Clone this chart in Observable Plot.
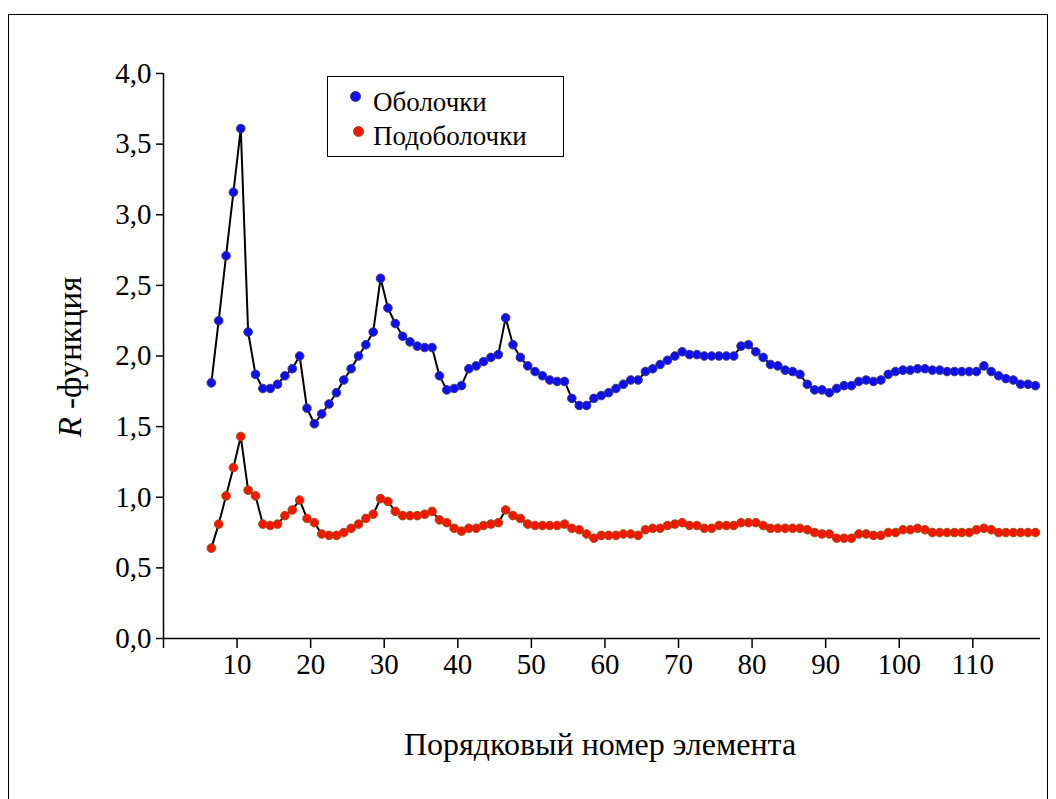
<!DOCTYPE html>
<html><head><meta charset="utf-8">
<script src="https://cdn.jsdelivr.net/npm/d3@7"></script>
<script src="https://cdn.jsdelivr.net/npm/@observablehq/plot@0.6"></script>
<style>
body{margin:0;background:#fff;}
#wrap{position:relative;width:1056px;height:799px;font-family:"Liberation Serif","Times New Roman",serif;color:#000;overflow:hidden}
#border{position:absolute;left:8px;top:14px;width:1040px;height:790px;border:1.5px solid #000;box-sizing:border-box}
#chart{position:absolute;left:0;top:0}
#legend{position:absolute;left:327px;top:76px;width:237px;height:81px;border:1.5px solid #000;box-sizing:border-box;background:#fff}
.li{position:absolute;left:45px;font-size:27px;line-height:27px;white-space:nowrap}
.sw{position:absolute;width:9px;height:9px;border-radius:50%;}
#xl{position:absolute;left:0;width:1200px;top:726px;text-align:center;font-size:32px;white-space:nowrap}
#yl{position:absolute;left:70px;top:357px;transform:translate(-50%,-50%) rotate(-90deg);font-size:33px;white-space:nowrap}
</style></head>
<body>
<div id="wrap">
<div id="border"></div>
<div id="chart"></div>
<div id="legend"></div>
<div id="xl">Порядковый номер элемента</div>
<div id="yl"><i>R</i> -функция</div>
</div>
<script>
const elements = [6,7,8,9,10,11,12,13,14,15,16,17,18,19,20,21,22,23,24,25,26,27,28,29,30,31,32,33,34,35,36,37,38,39,40,41,42,43,44,45,46,47,48,49,50,51,52,53,54,55,56,57,58,59,60,61,62,63,64,65,66,67,68,69,70,71,72,73,74,75,76,77,78,79,80,81,82,83,84,85,86,87,88,89,90,91,92,93,94,95,96,97,98,99,100,101,102,103,104,105,106,107,108,109,110,111,112,113,114,115,116,117,118];
const shells = [1.81,2.25,2.71,3.16,3.61,2.17,1.87,1.77,1.77,1.80,1.86,1.91,2.00,1.63,1.52,1.59,1.66,1.74,1.83,1.91,2.00,2.08,2.17,2.55,2.34,2.23,2.14,2.10,2.07,2.06,2.06,1.86,1.76,1.77,1.79,1.91,1.93,1.96,1.99,2.01,2.27,2.08,1.99,1.93,1.89,1.86,1.83,1.82,1.82,1.70,1.65,1.65,1.70,1.72,1.74,1.77,1.80,1.83,1.83,1.89,1.91,1.94,1.97,2.00,2.03,2.01,2.01,2.00,2.00,2.00,2.00,2.00,2.07,2.08,2.03,1.99,1.94,1.93,1.90,1.89,1.87,1.80,1.76,1.76,1.74,1.77,1.79,1.79,1.82,1.83,1.82,1.83,1.87,1.89,1.90,1.90,1.91,1.91,1.90,1.90,1.89,1.89,1.89,1.89,1.89,1.93,1.89,1.86,1.84,1.83,1.80,1.80,1.79];
const subshells = [0.64,0.81,1.01,1.21,1.43,1.05,1.01,0.81,0.80,0.81,0.87,0.91,0.98,0.85,0.82,0.74,0.73,0.73,0.75,0.78,0.81,0.85,0.88,0.99,0.97,0.90,0.87,0.87,0.87,0.88,0.90,0.84,0.82,0.78,0.76,0.78,0.78,0.80,0.81,0.82,0.91,0.87,0.85,0.81,0.80,0.80,0.80,0.80,0.81,0.78,0.77,0.74,0.71,0.73,0.73,0.73,0.74,0.74,0.73,0.77,0.78,0.78,0.80,0.81,0.82,0.80,0.80,0.78,0.78,0.80,0.80,0.80,0.82,0.82,0.82,0.80,0.78,0.78,0.78,0.78,0.78,0.77,0.75,0.74,0.74,0.71,0.71,0.71,0.74,0.74,0.73,0.73,0.75,0.75,0.77,0.77,0.78,0.77,0.75,0.75,0.75,0.75,0.75,0.75,0.77,0.78,0.77,0.75,0.75,0.75,0.75,0.75,0.75];
const seriesNames = ["Оболочки","Подоболочки"];
const xTicks = [0,10,20,30,40,50,60,70,80,90,100,110];
const yTicks = [0,0.5,1,1.5,2,2.5,3,3.5,4];

const data = elements.map((n,i)=>({n, shell:shells[i], sub:subshells[i]}));
const dx = 3.7;
const blue = {fill:"#0f0fee", stroke:"#36368f"};
const red = {fill:"#f41600", stroke:"#a84a10"};

const chart = Plot.plot({
  width:1056, height:799,
  marginLeft:163, marginRight:16, marginTop:73, marginBottom:161,
  style:{fontFamily:"Liberation Serif, Times New Roman, serif", fontSize:"29px", color:"#000", background:"transparent"},
  x:{domain:[0,119.2]},
  y:{domain:[0,4]},
  marks:[
    Plot.axisX({ticks:xTicks, tickSize:10, tickPadding:5, tickFormat:d=>d===0?"":String(d), label:null, strokeWidth:1.5}),
    Plot.axisY({ticks:yTicks, tickSize:7, tickPadding:5, tickFormat:d=>d.toFixed(1).replace(".",","), label:null, strokeWidth:1.5}),
    Plot.ruleY([0],{strokeWidth:1.5}),
    Plot.ruleX([0],{strokeWidth:1.5}),
    Plot.line(data,{x:"n", y:"shell", stroke:"#000", strokeWidth:2, dx}),
    Plot.line(data,{x:"n", y:"sub", stroke:"#000", strokeWidth:2, dx}),
    Plot.dot(data,{x:"n", y:"shell", r:4.3, fill:blue.fill, stroke:blue.stroke, strokeWidth:1, dx}),
    Plot.dot(data,{x:"n", y:"sub", r:4.3, fill:red.fill, stroke:red.stroke, strokeWidth:1, dx})
  ]
});
document.getElementById("chart").appendChild(chart);

const leg = document.getElementById("legend");
[[seriesNames[0], blue, 12, 19, 22],[seriesNames[1], red, 46, 54, 25]].forEach(([name,c,ty,sy,sx])=>{
  const sw = document.createElement("div");
  sw.className="sw"; sw.style.background=c.fill; sw.style.border="1px solid "+c.stroke;
  sw.style.left = sx+"px"; sw.style.top=(sy-5)+"px";
  leg.appendChild(sw);
  const t = document.createElement("div");
  t.className="li"; t.style.top=ty+"px"; t.textContent=name;
  leg.appendChild(t);
});
</script>
</body></html>
